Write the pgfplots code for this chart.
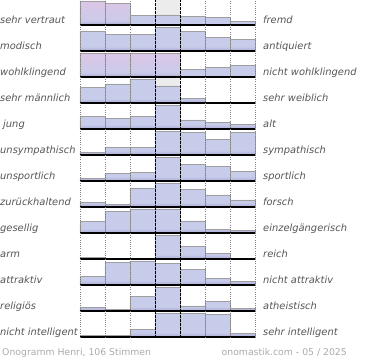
\documentclass[border=0pt]{standalone}
\usepackage{pgfplots}
\pgfplotsset{compat=1.18}
\usepgfplotslibrary{groupplots}
\usepackage{fontspec}
\setmainfont{DejaVu Sans}
\definecolor{barblue}{HTML}{C6CCEA}
\definecolor{barpurple}{HTML}{A79ECD}
\definecolor{barpink}{HTML}{DCC6E6}
\definecolor{bgrey}{HTML}{ECECEC}
\definecolor{labgrey}{HTML}{555555}
\definecolor{footgrey}{HTML}{AAAAAA}
\pgfdeclareverticalshading{blueshade}{100bp}{color(0bp)=(barpurple); color(25bp)=(barpurple); color(28bp)=(barpurple!55!barblue); color(34bp)=(barblue); color(100bp)=(barblue)}
\pgfdeclareverticalshading{pinkshade}{100bp}{color(0bp)=(barpurple); color(25bp)=(barpurple); color(28bp)=(barpurple!55!barblue); color(34bp)=(barblue!80!barpink); color(75bp)=(barpink); color(100bp)=(barpink)}
\pgfplotsset{
  bb/.style={ybar interval, shading=blueshade, draw=gray!75, line width=0.6bp},
  pk/.style={ybar interval, shading=pinkshade, draw=gray!75, line width=0.6bp},
  gb/.style={ybar interval, fill=bgrey, draw=none},
}
\newcommand{\lab}{\fontsize{9.9bp}{11bp}\selectfont\itshape}
\newcommand{\rowlabels}[2]{%
  \draw[black, line width=1.6bp] (axis cs:0,0) -- (axis cs:7,0);
  \node[anchor=base west, inner sep=0, xshift=-80bp, font=\lab, text=labgrey] at (axis cs:0,1.6) {#1};
  \node[anchor=base west, inner sep=0, xshift=8bp, font=\lab, text=labgrey] at (axis cs:7,1.6) {#2};}
\begin{document}
\begin{tikzpicture}
\begin{groupplot}[
  group style={group size=1 by 13, vertical sep=0pt},
  scale only axis, width=175bp, height=26bp,
  xmin=0, xmax=7, ymin=-1, ymax=25,
  axis line style={draw=none}, tick style={draw=none},
  ytick=\empty, xtick={0,1,2,5,6,7}, xticklabels={},
  xmajorgrids,
  major grid style={gray, line width=0.5bp, dash pattern=on 0.6bp off 1.6bp},
  extra x ticks={3,4}, extra x tick labels={},
  extra x tick style={grid=major, major grid style={black, line width=0.8bp, dash pattern=on 2.5bp off 1.5bp}},
  axis on top, clip=false,
]
% 1
\nextgroupplot
\coordinate (TL) at (rel axis cs:0,1);
\addplot[gb] coordinates {(3,25) (4,25)};
\addplot[pk] coordinates {(0,24) (1,21.7) (2,21.7)};
\addplot[bb] coordinates {(2,9.7) (3,10) (4,8.7) (5,7.3) (6,3.3) (7,3.3)};
\rowlabels{sehr vertraut}{fremd}
% 2
\nextgroupplot
\addplot[bb] coordinates {(0,19.8) (1,16.5) (2,16.5) (3,24) (4,19.2) (5,13.2) (6,11.2) (7,11.2)};
\rowlabels{modisch}{antiquiert}
% 3
\nextgroupplot
\addplot[pk] coordinates {(0,24) (1,24) (2,24) (3,24) (4,24)};
\addplot[bb] coordinates {(4,7.5) (5,9.2) (6,11.5) (7,11.5)};
\rowlabels{wohlklingend}{nicht wohlklingend}
% 4
\nextgroupplot
\addplot[gb] coordinates {(3,25) (4,25)};
\addplot[bb] coordinates {(0,15.3) (1,19) (2,24) (3,17) (4,4.7) (5,0) (6,0.3) (7,0.3)};
\rowlabels{sehr männlich}{sehr weiblich}
% 5
\nextgroupplot
\addplot[bb] coordinates {(0,12.3) (1,10.7) (2,12.3) (3,24) (4,9) (5,6.3) (6,4.7) (7,4.7)};
\rowlabels{\hspace{3bp}jung}{alt}
% 6
\nextgroupplot
\addplot[bb] coordinates {(0,2.3) (1,7.7) (2,7.7) (3,24) (4,22.3) (5,15.7) (6,22.3) (7,22.3)};
\rowlabels{unsympathisch}{sympathisch}
% 7
\nextgroupplot
\addplot[bb] coordinates {(0,2.7) (1,7.5) (2,8.5) (3,24) (4,16.7) (5,14.3) (6,9.3) (7,9.3)};
\rowlabels{unsportlich}{sportlich}
% 8
\nextgroupplot
\addplot[bb] coordinates {(0,4.3) (1,2.5) (2,19) (3,24) (4,17.7) (5,12) (6,7) (7,7)};
\rowlabels{zurückhaltend}{forsch}
% 9
\nextgroupplot
\addplot[bb] coordinates {(0,11.3) (1,21.3) (2,24) (3,24) (4,12) (5,3.7) (6,2.3) (7,2.3)};
\rowlabels{gesellig}{einzelgängerisch}
% 10
\nextgroupplot
\addplot[bb] coordinates {(0,1.5) (1,0) (2,0.4) (3,24) (4,12.7) (5,5.3) (6,0.6) (7,0.6)};
\rowlabels{arm}{reich}
% 11
\nextgroupplot
\addplot[bb] coordinates {(0,8.3) (1,22.7) (2,24) (3,21.7) (4,15.3) (5,6.3) (6,3.3) (7,3.3)};
\rowlabels{attraktiv}{nicht attraktiv}
% 12
\nextgroupplot
\addplot[bb] coordinates {(0,3.7) (1,1.7) (2,14.3) (3,24) (4,5) (5,9.3) (6,2.7) (7,2.7)};
\rowlabels{religiös}{atheistisch}
% 13
\nextgroupplot
\addplot[bb] coordinates {(0,1.5) (1,1.5) (2,7.7) (3,24) (4,23.8) (5,22.3) (6,3.3) (7,3.3)};
\rowlabels{nicht intelligent}{sehr intelligent}
\node[anchor=base west, inner sep=0, xshift=-78bp, yshift=-17.7bp, font=\fontsize{9.3bp}{11bp}\selectfont, text=footgrey] at (rel axis cs:0,0) {Onogramm Henri, 106 Stimmen};
\node[anchor=base east, inner sep=0, xshift=92bp, yshift=-17.7bp, font=\fontsize{9.3bp}{11bp}\selectfont, text=footgrey] at (rel axis cs:1,0) {onomastik.com - 05 / 2025};
\end{groupplot}
\pgfresetboundingbox
\path[use as bounding box] ([xshift=-80bp]TL) rectangle ([xshift=290bp,yshift=-360bp]TL);
\end{tikzpicture}
\end{document}
